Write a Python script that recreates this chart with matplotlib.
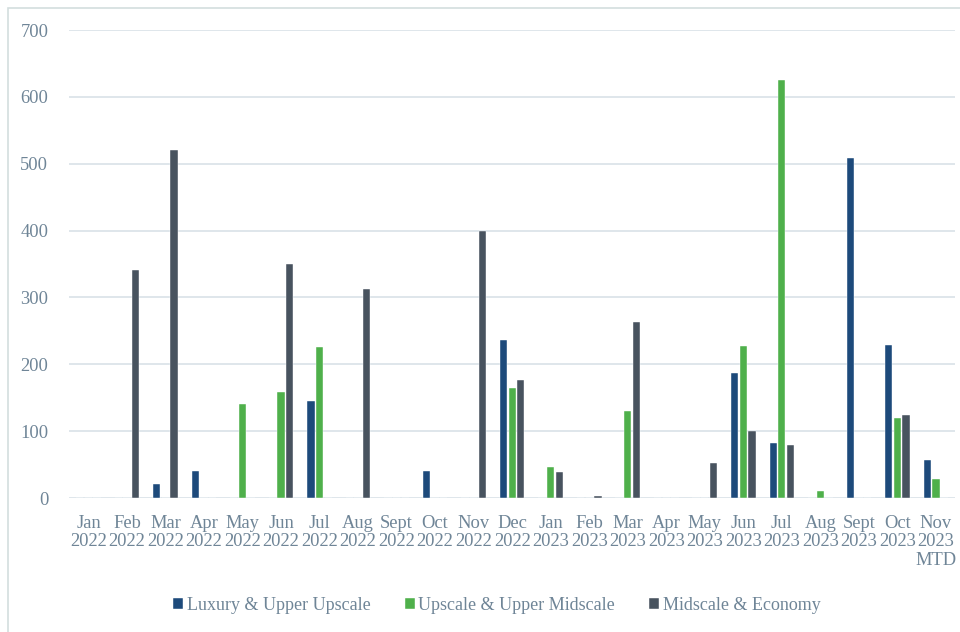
import matplotlib
matplotlib.use("Agg")
import matplotlib.pyplot as plt
import numpy as np

months = ["Jan\n2022", "Feb\n2022", "Mar\n2022", "Apr\n2022", "May\n2022", "Jun\n2022",
          "Jul\n2022", "Aug\n2022", "Sept\n2022", "Oct\n2022", "Nov\n2022", "Dec\n2022",
          "Jan\n2023", "Feb\n2023", "Mar\n2023", "Apr\n2023", "May\n2023", "Jun\n2023",
          "Jul\n2023", "Aug\n2023", "Sept\n2023", "Oct\n2023", "Nov\n2023\nMTD"]

luxury = [0, 0, 21, 40, 0, 0, 145, 0, 0, 41, 0, 237,
          0, 0, 0, 0, 0, 187, 82, 0, 509, 229, 57]
upscale = [0, 0, 0, 0, 141, 159, 226, 0, 0, 0, 0, 164,
           47, 0, 130, 0, 0, 227, 625, 10, 0, 119, 28]
midscale = [0, 341, 520, 0, 0, 350, 0, 312, 0, 0, 400, 177,
            39, 3, 263, 0, 52, 100, 80, 0, 0, 124, 0]

series = [("Luxury & Upper Upscale", luxury, "#1d4a7b"),
          ("Upscale & Upper Midscale", upscale, "#4fb04b"),
          ("Midscale & Economy", midscale, "#48535f")]

TEXT = "#6f8597"
GRID = "#d9e1e7"
FS = 13.3

plt.rcParams['font.family'] = ['Liberation Serif', 'DejaVu Serif']

fig = plt.figure(figsize=(9.6, 6.32), dpi=100)
ax = fig.add_axes([0.072, 0.212, 0.923, 0.7405])

x = np.arange(len(months))
width = 0.19
offset = 0.225
for i, (name, vals, col) in enumerate(series):
    ax.bar(x + (i - 1) * offset, vals, width, color=col, label=name,
           edgecolor="white", linewidth=0.3, zorder=3)

ax.set_xlim(-0.5, len(months) - 0.5)
ax.set_ylim(0, 700)
ax.set_yticks(range(0, 701, 100))
ax.yaxis.grid(True, color=GRID, linewidth=1.2, zorder=0)
ax.set_xticks(x)
ax.set_xticklabels(months, linespacing=1.12)
ax.tick_params(axis="both", length=0, labelsize=FS, colors=TEXT)
ax.tick_params(axis="x", pad=12)
ax.tick_params(axis="y", pad=15)
for s in ax.spines.values():
    s.set_visible(False)

handles, labels = ax.get_legend_handles_labels()
leg = fig.legend(handles, labels, loc="center", bbox_to_anchor=(497 / 960, 1 - 605 / 632),
                 ncol=3, frameon=False, fontsize=13, handlelength=0.55, handleheight=0.55,
                 handletextpad=0.2, columnspacing=1.9)
for t in leg.get_texts():
    t.set_color(TEXT)

# light frame round the chart
fig.patches.append(plt.Rectangle((8 / 960, -0.01), 1.2, 1 - 8 / 632 + 0.01,
                                 transform=fig.transFigure, fill=False,
                                 edgecolor="#d3dede", linewidth=1.2))

fig.savefig("out.png", dpi=100)
